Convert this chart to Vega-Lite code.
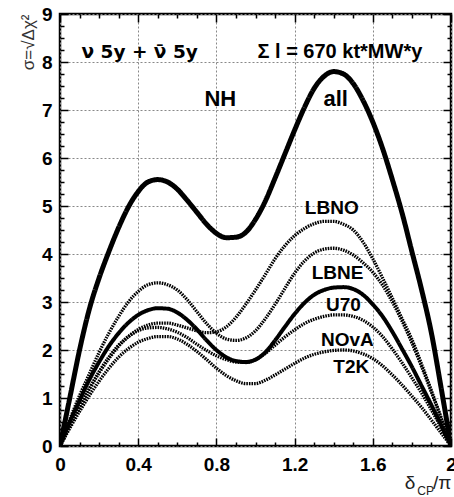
{
 "$schema": "https://vega.github.io/schema/vega-lite/v6.json",
 "width": 391, "height": 432,
 "autosize": {"type": "none"},
 "padding": {"left": 60, "top": 14, "right": 3, "bottom": 51},
 "background": "white",
 "config": {
  "view": {"stroke": "black", "strokeWidth": 2.5},
  "axis": {"tickColor": "black", "domainColor": "black", "domain": false, "tickWidth": 1.5,
   "labelFont": "Liberation Sans", "labelFontWeight": "bold", "labelFontSize": 19, "labelColor": "black",
   "gridColor": "#888", "gridDash": [2, 2], "gridWidth": 1, "labelFlush": false, "labelOverlap": false, "title": null},
  "text": {"font": "Liberation Sans", "baseline": "middle", "color": "black"}
 },
 "datasets": {
  "curves": [
   {"x":0,"all":0,"LBNO":0,"LBNE":0,"U70":0,"NOvA":0,"T2K":0},
   {"x":0.05,"all":1.0,"LBNO":0.4,"LBNE":0.55,"U70":0.5,"NOvA":0.42,"T2K":0.37},
   {"x":0.1,"all":2.0,"LBNO":0.8,"LBNE":1.05,"U70":0.95,"NOvA":0.82,"T2K":0.72},
   {"x":0.15,"all":2.85,"LBNO":1.18,"LBNE":1.5,"U70":1.38,"NOvA":1.2,"T2K":1.05},
   {"x":0.2,"all":3.5,"LBNO":1.52,"LBNE":1.95,"U70":1.75,"NOvA":1.55,"T2K":1.35},
   {"x":0.25,"all":4.05,"LBNO":1.82,"LBNE":2.35,"U70":2.08,"NOvA":1.85,"T2K":1.62},
   {"x":0.3,"all":4.55,"LBNO":2.08,"LBNE":2.7,"U70":2.35,"NOvA":2.1,"T2K":1.85},
   {"x":0.35,"all":4.98,"LBNO":2.28,"LBNE":3.0,"U70":2.57,"NOvA":2.28,"T2K":2.03},
   {"x":0.4,"all":5.3,"LBNO":2.43,"LBNE":3.22,"U70":2.73,"NOvA":2.4,"T2K":2.16},
   {"x":0.45,"all":5.5,"LBNO":2.52,"LBNE":3.36,"U70":2.83,"NOvA":2.46,"T2K":2.24},
   {"x":0.5,"all":5.55,"LBNO":2.56,"LBNE":3.4,"U70":2.87,"NOvA":2.47,"T2K":2.28},
   {"x":0.55,"all":5.5,"LBNO":2.56,"LBNE":3.36,"U70":2.86,"NOvA":2.44,"T2K":2.28},
   {"x":0.6,"all":5.35,"LBNO":2.52,"LBNE":3.25,"U70":2.78,"NOvA":2.37,"T2K":2.23},
   {"x":0.65,"all":5.12,"LBNO":2.46,"LBNE":3.05,"U70":2.63,"NOvA":2.26,"T2K":2.12},
   {"x":0.7,"all":4.87,"LBNO":2.4,"LBNE":2.8,"U70":2.43,"NOvA":2.12,"T2K":1.97},
   {"x":0.75,"all":4.62,"LBNO":2.36,"LBNE":2.55,"U70":2.2,"NOvA":1.99,"T2K":1.8},
   {"x":0.8,"all":4.43,"LBNO":2.38,"LBNE":2.35,"U70":2.0,"NOvA":1.88,"T2K":1.62},
   {"x":0.85,"all":4.34,"LBNO":2.48,"LBNE":2.23,"U70":1.85,"NOvA":1.8,"T2K":1.47},
   {"x":0.9,"all":4.35,"LBNO":2.68,"LBNE":2.2,"U70":1.77,"NOvA":1.75,"T2K":1.36},
   {"x":0.95,"all":4.45,"LBNO":2.95,"LBNE":2.25,"U70":1.75,"NOvA":1.74,"T2K":1.3},
   {"x":1.0,"all":4.72,"LBNO":3.25,"LBNE":2.4,"U70":1.8,"NOvA":1.8,"T2K":1.3},
   {"x":1.05,"all":5.1,"LBNO":3.57,"LBNE":2.65,"U70":1.95,"NOvA":1.93,"T2K":1.37},
   {"x":1.1,"all":5.58,"LBNO":3.9,"LBNE":2.95,"U70":2.2,"NOvA":2.1,"T2K":1.48},
   {"x":1.15,"all":6.08,"LBNO":4.17,"LBNE":3.28,"U70":2.48,"NOvA":2.27,"T2K":1.6},
   {"x":1.2,"all":6.58,"LBNO":4.38,"LBNE":3.6,"U70":2.75,"NOvA":2.42,"T2K":1.72},
   {"x":1.25,"all":7.05,"LBNO":4.53,"LBNE":3.85,"U70":2.98,"NOvA":2.55,"T2K":1.83},
   {"x":1.3,"all":7.45,"LBNO":4.63,"LBNE":4.02,"U70":3.15,"NOvA":2.64,"T2K":1.91},
   {"x":1.35,"all":7.7,"LBNO":4.68,"LBNE":4.1,"U70":3.25,"NOvA":2.7,"T2K":1.96},
   {"x":1.4,"all":7.8,"LBNO":4.68,"LBNE":4.12,"U70":3.3,"NOvA":2.73,"T2K":1.99},
   {"x":1.45,"all":7.75,"LBNO":4.62,"LBNE":4.08,"U70":3.31,"NOvA":2.73,"T2K":2.0},
   {"x":1.5,"all":7.55,"LBNO":4.5,"LBNE":3.98,"U70":3.27,"NOvA":2.7,"T2K":1.98},
   {"x":1.55,"all":7.2,"LBNO":4.25,"LBNE":3.82,"U70":3.15,"NOvA":2.62,"T2K":1.92},
   {"x":1.6,"all":6.75,"LBNO":3.9,"LBNE":3.62,"U70":2.95,"NOvA":2.48,"T2K":1.82},
   {"x":1.65,"all":6.2,"LBNO":3.5,"LBNE":3.35,"U70":2.7,"NOvA":2.28,"T2K":1.67},
   {"x":1.7,"all":5.55,"LBNO":3.08,"LBNE":3.0,"U70":2.38,"NOvA":2.02,"T2K":1.48},
   {"x":1.75,"all":4.85,"LBNO":2.65,"LBNE":2.6,"U70":2.02,"NOvA":1.73,"T2K":1.27},
   {"x":1.8,"all":4.05,"LBNO":2.22,"LBNE":2.15,"U70":1.65,"NOvA":1.42,"T2K":1.04},
   {"x":1.85,"all":3.25,"LBNO":1.7,"LBNE":1.65,"U70":1.25,"NOvA":1.1,"T2K":0.8},
   {"x":1.9,"all":2.35,"LBNO":1.15,"LBNE":1.12,"U70":0.85,"NOvA":0.75,"T2K":0.54},
   {"x":1.95,"all":1.2,"LBNO":0.58,"LBNE":0.57,"U70":0.43,"NOvA":0.38,"T2K":0.27},
   {"x":2.0,"all":0,"LBNO":0,"LBNE":0,"U70":0,"NOvA":0,"T2K":0}
  ]
 },
 "layer": [
  {
   "data": {"name": "curves"},
   "transform": [{"fold": ["all", "LBNO", "LBNE", "U70", "NOvA", "T2K"], "as": ["s", "v"]}],
   "mark": {"type": "line", "interpolate": "monotone", "color": "black", "clip": true},
   "encoding": {
    "x": {"field": "x", "type": "quantitative", "scale": {"domain": [0, 2], "nice": false, "zero": false},
     "axis": {"orient": "bottom", "values": [0, 0.4, 0.8, 1.2, 1.6, 2], "grid": true, "ticks": false, "labels": false}},
    "y": {"field": "v", "type": "quantitative", "scale": {"domain": [0, 9], "nice": false},
     "axis": {"orient": "left", "values": [0,1,2,3,4,5,6,7,8,9], "grid": true, "ticks": false, "labels": false}},
    "detail": {"field": "s"},
    "strokeDash": {"field": "s", "type": "nominal", "scale": {"domain": ["all", "LBNO", "LBNE", "U70", "NOvA", "T2K"], "range": [[1, 0], [1.6, 1], [1.6, 1], [1, 0], [1.6, 1], [1.6, 1]]}, "legend": null},
    "strokeWidth": {"field": "s", "type": "ordinal", "scale": {"type": "ordinal", "domain": ["all", "LBNO", "LBNE", "U70", "NOvA", "T2K"], "range": [5, 3.3, 3.3, 4, 3.3, 3.3]}, "legend": null}
   }
  },
  {
   "data": {"name": "curves"},
   "mark": {"type": "point", "opacity": 0},
   "encoding": {
    "x": {"field": "x", "type": "quantitative", "axis": {"orient": "bottom", "values": [0, 0.4, 0.8, 1.2, 1.6, 2], "format": "~g", "offset": -8, "tickSize": 8, "labelPadding": 9, "grid": false}},
    "y": {"field": "all", "type": "quantitative", "axis": {"orient": "left", "values": [0,1,2,3,4,5,6,7,8,9], "format": "d", "offset": -8, "tickSize": 8, "labelPadding": 8, "grid": false,
      "title": "σ=√Δχ²", "titleFont": "Liberation Sans", "titleFontWeight": "normal", "titleFontSize": 17, "titleColor": "#333", "titleAnchor": "end", "titlePadding": 4}}
   }
  },
  {
   "data": {"name": "curves"},
   "mark": {"type": "point", "opacity": 0},
   "encoding": {
    "x": {"field": "x", "type": "quantitative", "axis": {"orient": "bottom", "values": [0.1,0.2,0.3,0.5,0.6,0.7,0.9,1.0,1.1,1.3,1.4,1.5,1.7,1.8,1.9], "offset": -4, "tickSize": 4, "labels": false, "grid": false}},
    "y": {"field": "all", "type": "quantitative", "axis": {"orient": "left", "values": [0.25,0.5,0.75,1.25,1.5,1.75,2.25,2.5,2.75,3.25,3.5,3.75,4.25,4.5,4.75,5.25,5.5,5.75,6.25,6.5,6.75,7.25,7.5,7.75,8.25,8.5,8.75], "offset": -4, "tickSize": 4, "labels": false, "grid": false}}
   }
  },
  {
   "data": {"name": "curves"},
   "mark": {"type": "point", "opacity": 0},
   "encoding": {
    "x": {"field": "x", "type": "quantitative", "axis": {"orient": "top", "values": [0, 0.4, 0.8, 1.2, 1.6, 2], "offset": -8, "tickSize": 8, "labels": false, "grid": false}},
    "y": {"field": "all", "type": "quantitative", "axis": {"orient": "right", "values": [0,1,2,3,4,5,6,7,8,9], "offset": -8, "tickSize": 8, "labels": false, "grid": false}}
   }
  },
  {
   "data": {"name": "curves"},
   "mark": {"type": "point", "opacity": 0},
   "encoding": {
    "x": {"field": "x", "type": "quantitative", "axis": {"orient": "top", "values": [0.1,0.2,0.3,0.5,0.6,0.7,0.9,1.0,1.1,1.3,1.4,1.5,1.7,1.8,1.9], "offset": -4, "tickSize": 4, "labels": false, "grid": false}},
    "y": {"field": "all", "type": "quantitative", "axis": {"orient": "right", "values": [0.25,0.5,0.75,1.25,1.5,1.75,2.25,2.5,2.75,3.25,3.5,3.75,4.25,4.5,4.75,5.25,5.5,5.75,6.25,6.5,6.75,7.25,7.5,7.75,8.25,8.5,8.75], "offset": -4, "tickSize": 4, "labels": false, "grid": false}}
   }
  },
  {
   "data": {"values": [{"x": 0.11, "y": 8.2, "t": "ν 5y + ν̄ 5y"}]},
   "mark": {"type": "text", "font": "DejaVu Sans", "fontSize": 18.5, "fontWeight": "bold", "align": "left"},
   "encoding": {"x": {"field": "x", "type": "quantitative", "axis": null}, "y": {"field": "y", "type": "quantitative", "axis": null}, "text": {"field": "t"}}
  },
  {
   "data": {"values": [{"x": 1.01, "y": 8.2, "t": "Σ l = 670 kt*MW*y"}]},
   "mark": {"type": "text", "fontSize": 20, "fontWeight": "bold", "align": "left"},
   "encoding": {"x": {"field": "x", "type": "quantitative", "axis": null}, "y": {"field": "y", "type": "quantitative", "axis": null}, "text": {"field": "t"}}
  },
  {
   "data": {"values": [{"x": 0.82, "y": 7.23, "t": "NH"}, {"x": 1.41, "y": 7.23, "t": "all"}]},
   "mark": {"type": "text", "fontSize": 22, "fontWeight": "bold", "align": "center"},
   "encoding": {"x": {"field": "x", "type": "quantitative", "axis": null}, "y": {"field": "y", "type": "quantitative", "axis": null}, "text": {"field": "t"}}
  },
  {
   "data": {"values": [{"x": 1.39, "y": 4.96, "t": "LBNO"}, {"x": 1.42, "y": 3.6, "t": "LBNE"}, {"x": 1.45, "y": 2.94, "t": "U70"}, {"x": 1.47, "y": 2.2, "t": "NOvA"}, {"x": 1.49, "y": 1.65, "t": "T2K"}]},
   "mark": {"type": "text", "fontSize": 19, "fontWeight": "bold", "align": "center"},
   "encoding": {"x": {"field": "x", "type": "quantitative", "axis": null}, "y": {"field": "y", "type": "quantitative", "axis": null}, "text": {"field": "t"}}
  },
  {
   "data": {"values": [{"x": 1.79, "y": -0.77, "t": "δ"}, {"x": 1.955, "y": -0.77, "t": "/π"}]},
   "mark": {"type": "text", "fontSize": 19, "align": "center", "color": "#222"},
   "encoding": {"x": {"field": "x", "type": "quantitative", "axis": null}, "y": {"field": "y", "type": "quantitative", "axis": null}, "text": {"field": "t"}}
  },
  {
   "data": {"values": [{"x": 1.87, "y": -0.93, "t": "CP"}]},
   "mark": {"type": "text", "fontSize": 12, "align": "center", "color": "#222"},
   "encoding": {"x": {"field": "x", "type": "quantitative", "axis": null}, "y": {"field": "y", "type": "quantitative", "axis": null}, "text": {"field": "t"}}
  }
 ],
 "resolve": {"axis": {"x": "independent", "y": "independent"}}
}
